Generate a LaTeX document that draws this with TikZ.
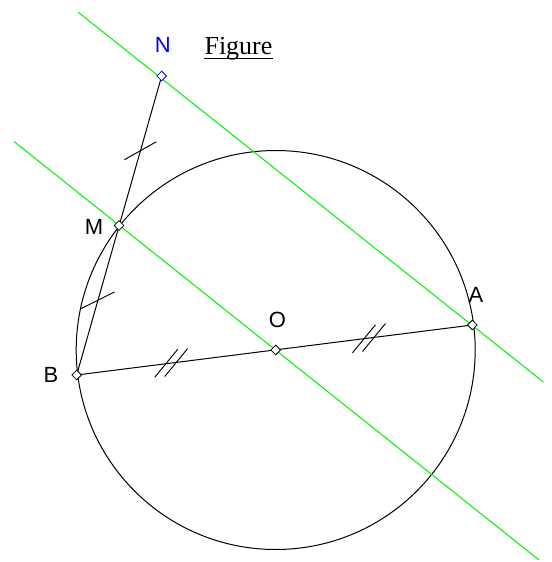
\documentclass[tikz,border=0pt]{standalone}
\usepackage{fontspec}
\setmainfont{Liberation Serif}
\newfontfamily\lab{Liberation Sans}
\usetikzlibrary{calc}
\definecolor{lgreen}{RGB}{0,240,0}
\tikzset{
  ptmark/.style={draw,diamond,inner sep=0pt,minimum size=7.5pt,line width=0.6pt,fill=white},
  ptlabel/.style={font=\lab\fontsize{16.5}{18}\selectfont,inner sep=0pt},
  seg/.style={line width=0.75pt},
  gline/.style={lgreen,line width=0.75pt},
  tick/.style={line width=0.7pt}
}
\usetikzlibrary{shapes.geometric}
\begin{document}
\begin{tikzpicture}[x=0.75pt,y=-0.75pt]
\useasboundingbox (0,0) rectangle (552,562);
% points
\coordinate (N) at (161.7,76);
\coordinate (M) at (119,225.5);
\coordinate (B) at (76.7,375);
\coordinate (O) at (275.7,350);
\coordinate (A) at (472.3,325);
\coordinate (g1a) at (78.3,12.3);
\coordinate (g1b) at (543.4,382);
\coordinate (g2a) at (14,141.5);
\coordinate (g2b) at (539,560);
% circle
\draw[seg] (O) circle[radius=199.5];
% green lines
\draw[gline] (g1a) -- (g1b);
\draw[gline] (g2a) -- (g2b);
% segments
\draw[seg] (N) -- (B);
\draw[seg] (B) -- (A);
% ticks
\draw[tick] ($(N)!0.5!(M)$) ++(-16,9) -- ++(32,-18);
\draw[tick] ($(M)!0.5!(B)$) ++(-16.5,8.2) -- ++(33,-16.4);
\draw[tick] ($(B)!0.5!(O)$) ++(-10,0.8) ++(-11.5,14) -- ++(23,-28);
\draw[tick] ($(B)!0.5!(O)$) ++(-11.5,14) -- ++(23,-28);
\draw[tick] ($(O)!0.5!(A)$) ++(-10,1.3) ++(-11.5,14) -- ++(23,-28);
\draw[tick] ($(O)!0.5!(A)$) ++(-11.5,14) -- ++(23,-28);
% point marks
\node[ptmark,draw=blue] (Nm) at (N) {};
\node[ptmark] (Mm) at (M) {};
\node[ptmark] (Bm) at (B) {};
\node[ptmark] (Om) at (O) {};
\node[ptmark] (Am) at (A) {};
% labels
\node[ptlabel,text=blue] (Nl) at (162.7,45) {N};
\node[ptlabel] (Ml) at (94,227) {M};
\node[ptlabel] (Bl) at (51,375) {B};
\node[ptlabel] (Ol) at (277.5,320) {O};
\node[ptlabel] (Al) at (476,295) {A};
\node[anchor=base,inner sep=0pt,font=\fontsize{19.5}{22}\selectfont] (fig) at (238.5,54) {Figure};
\draw[line width=1.4pt] (fig.base west) ++(0,4.5) -- ($(fig.base east)+(0,4.5)$);
\end{tikzpicture}
\end{document}
